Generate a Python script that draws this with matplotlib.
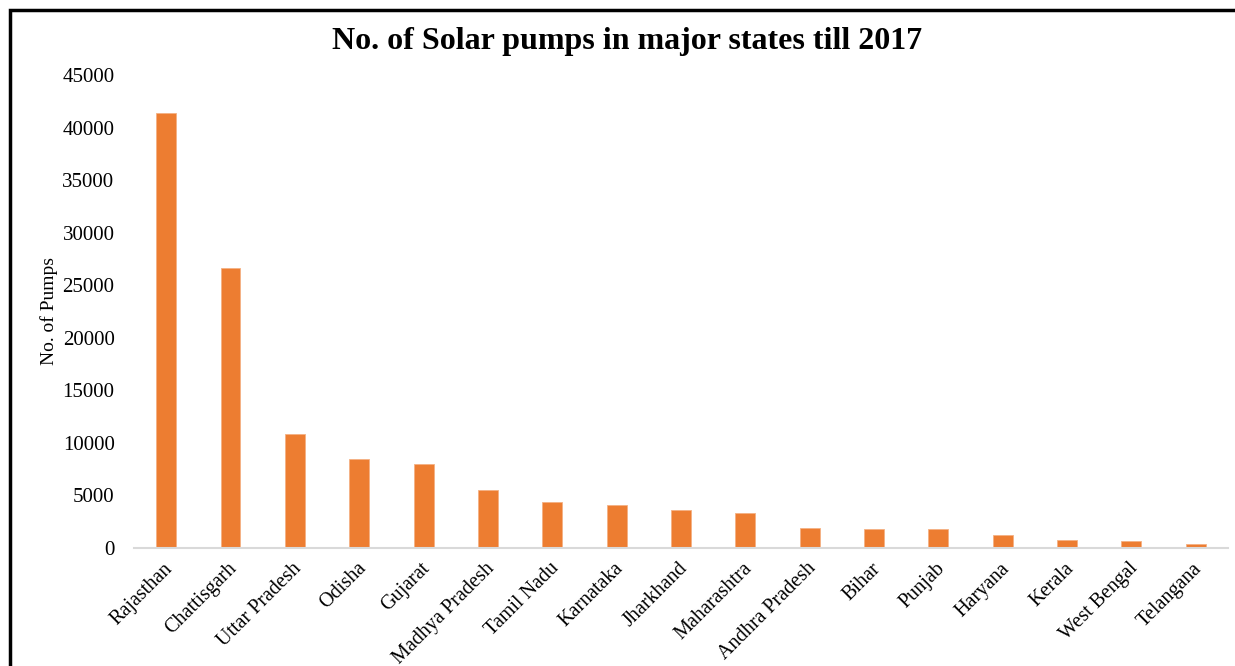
"""
Solar pumps by state bar chart
"""

import matplotlib.pyplot as plt
import matplotlib.transforms as mtransforms
from matplotlib.patches import Rectangle

# Data
states = [
    "Rajasthan", "Chattisgarh", "Uttar Pradesh", "Odisha", "Gujarat",
    "Madhya Pradesh", "Tamil Nadu", "Karnataka", "Jharkhand", "Maharashtra",
    "Andhra Pradesh", "Bihar", "Punjab", "Haryana", "Kerala", "West Bengal",
    "Telangana",
]
pumps = [41400, 26650, 10850, 8500, 7960, 5520, 4400, 4060, 3590, 3330,
         1900, 1840, 1800, 1200, 760, 660, 350]
y_ticks = [0, 5000, 10000, 15000, 20000, 25000, 30000, 35000, 40000, 45000]

plt.rcParams["font.family"] = ["Liberation Serif", "DejaVu Serif"]

fig = plt.figure(figsize=(12.35, 6.66), dpi=100, facecolor="white")
ax = fig.add_axes([0.1085, 0.1772, 0.8858, 0.7102])

x = range(len(states))
ax.bar(x, pumps, width=0.31, color="#ED7D31", edgecolor="#F4B183", linewidth=0.6)

ax.set_xlim(-0.5, len(states) - 0.5)
ax.set_ylim(0, 45000)
ax.set_yticks(y_ticks)
ax.set_yticklabels([str(v) for v in y_ticks], fontsize=15)
ax.set_xticks(list(x))
ax.set_xticklabels(states, fontsize=14.5, rotation=45, ha="right",
                   rotation_mode="anchor")
ax.tick_params(axis="y", length=0, pad=14)
ax.tick_params(axis="x", length=0, pad=8)

# Nudge category labels slightly left
shift = mtransforms.ScaledTranslation(-3 / 100, 0, fig.dpi_scale_trans)
for lbl in ax.get_xticklabels():
    lbl.set_transform(lbl.get_transform() + shift)

# Clean look
for side in ["top", "right", "left"]:
    ax.spines[side].set_visible(False)
ax.spines["bottom"].set_color("#D9D9D9")
ax.spines["bottom"].set_linewidth(1.5)

ax.set_ylabel("No. of Pumps", fontsize=14, labelpad=3)
fig.text(0.508, 0.937, "No. of Solar pumps in major states till 2017",
         fontsize=23, weight="bold", ha="center", va="center")

# Frame around figure
fig.patches.append(
    Rectangle((10 / 1235, -0.1), 1.2, 0.1 + 656 / 666, transform=fig.transFigure,
              fill=False, edgecolor="black", linewidth=2.5)
)

plt.savefig("out.png", dpi=100, facecolor="white")
plt.close()
